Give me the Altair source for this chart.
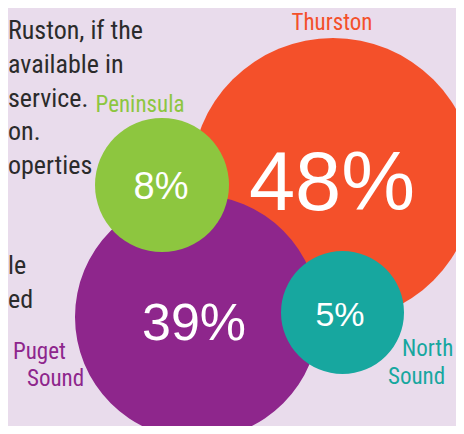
import altair as alt
import pandas as pd

# Bubbles (reference pixel space: x 0-464, y 0-434, y downward)
regions = ["Thurston", "Puget Sound", "Peninsula", "North Sound"]
shares = [48, 39, 8, 5]
share_labels = ["48%", "39%", "8%", "5%"]
bubble_x = [333, 197, 162, 342.5]
bubble_y = [180, 317, 185, 312.5]
bubble_r = [142, 122, 67, 61.5]
bubble_colors = ["#F4502A", "#8E268C", "#8DC63F", "#17A79F"]
pct_font = [83, 52, 38, 34]
pct_x = [332, 194, 161, 340]
pct_y = [210, 340, 199, 326]

# Region name labels
label_text = ["Thurston", "Peninsula", "Puget", "Sound", "North", "Sound"]
label_region = ["Thurston", "Peninsula", "Puget Sound", "Puget Sound", "North Sound", "North Sound"]
label_x = [332, 140, 13, 27, 402, 388]
label_y = [30, 112, 359, 386, 356, 384]
label_align = ["center", "center", "left", "left", "left", "left"]

# Body text (visible parts of the paragraph at the left edge)
body_lines = ["Ruston, if the", "available in", "service.", "on.", "operties", "le", "ed"]
body_left = [8, 8, 8, 8, 8, 8, 8]
body_y = [39, 73, 107, 140, 174, 274, 308]

bubbles = pd.DataFrame({
    "region": regions, "share": shares, "label": share_labels,
    "x": bubble_x, "y": bubble_y, "r": bubble_r,
    "font": pct_font, "tx": pct_x, "ty": pct_y,
})
labels = pd.DataFrame({"text": label_text, "region": label_region,
                       "x": label_x, "y": label_y, "align": label_align})
body = pd.DataFrame({"text": body_lines, "x": body_left, "y": body_y})

W, H = 448, 418
xs = alt.Scale(domain=[8, 8 + W], nice=False, zero=False)
ys = alt.Scale(domain=[8, 8 + H], nice=False, zero=False, reverse=True)
color = alt.Color("region:N", scale=alt.Scale(domain=regions, range=bubble_colors), legend=None)

narrow = "Liberation Sans Narrow, Arial Narrow, Roboto Condensed, sans-serif"

circles = alt.Chart(bubbles).transform_calculate(
    sz="pow(2 * datum.r, 2)"
).mark_circle(opacity=1).encode(
    x=alt.X("x:Q", scale=xs, axis=None),
    y=alt.Y("y:Q", scale=ys, axis=None),
    size=alt.Size("sz:Q", scale=None, legend=None),
    color=color,
    order=alt.Order("share:Q", sort="descending"),
)

pct = alt.Chart(bubbles).mark_text(
    font="Liberation Sans, Arial, sans-serif", color="white", baseline="alphabetic", align="center"
).encode(
    x=alt.X("tx:Q", scale=xs, axis=None),
    y=alt.Y("ty:Q", scale=ys, axis=None),
    text="label:N",
    size=alt.Size("font:Q", scale=None, legend=None),
)

lab_c = alt.Chart(labels).transform_filter("datum.align == 'center'").mark_text(
    font=narrow, fontSize=23, baseline="alphabetic", align="center"
).encode(
    x=alt.X("x:Q", scale=xs, axis=None),
    y=alt.Y("y:Q", scale=ys, axis=None),
    text="text:N",
    color=color,
)
lab_l = alt.Chart(labels).transform_filter("datum.align == 'left'").mark_text(
    font=narrow, fontSize=23, baseline="alphabetic", align="left"
).encode(
    x=alt.X("x:Q", scale=xs, axis=None),
    y=alt.Y("y:Q", scale=ys, axis=None),
    text="text:N",
    color=color,
)

txt = alt.Chart(body).mark_text(
    font=narrow, fontSize=26, baseline="alphabetic", align="left", color="#2B2B2B"
).encode(
    x=alt.X("x:Q", scale=xs, axis=None),
    y=alt.Y("y:Q", scale=ys, axis=None),
    text="text:N",
)

chart = alt.layer(txt, circles, pct, lab_c, lab_l).properties(
    width=W, height=H, background="#E9DCEC", padding=0,
    autosize=alt.AutoSizeParams(type="none"),
).configure_view(stroke=None)

chart.save("out.html", embed_options={"renderer": "svg", "actions": False})
